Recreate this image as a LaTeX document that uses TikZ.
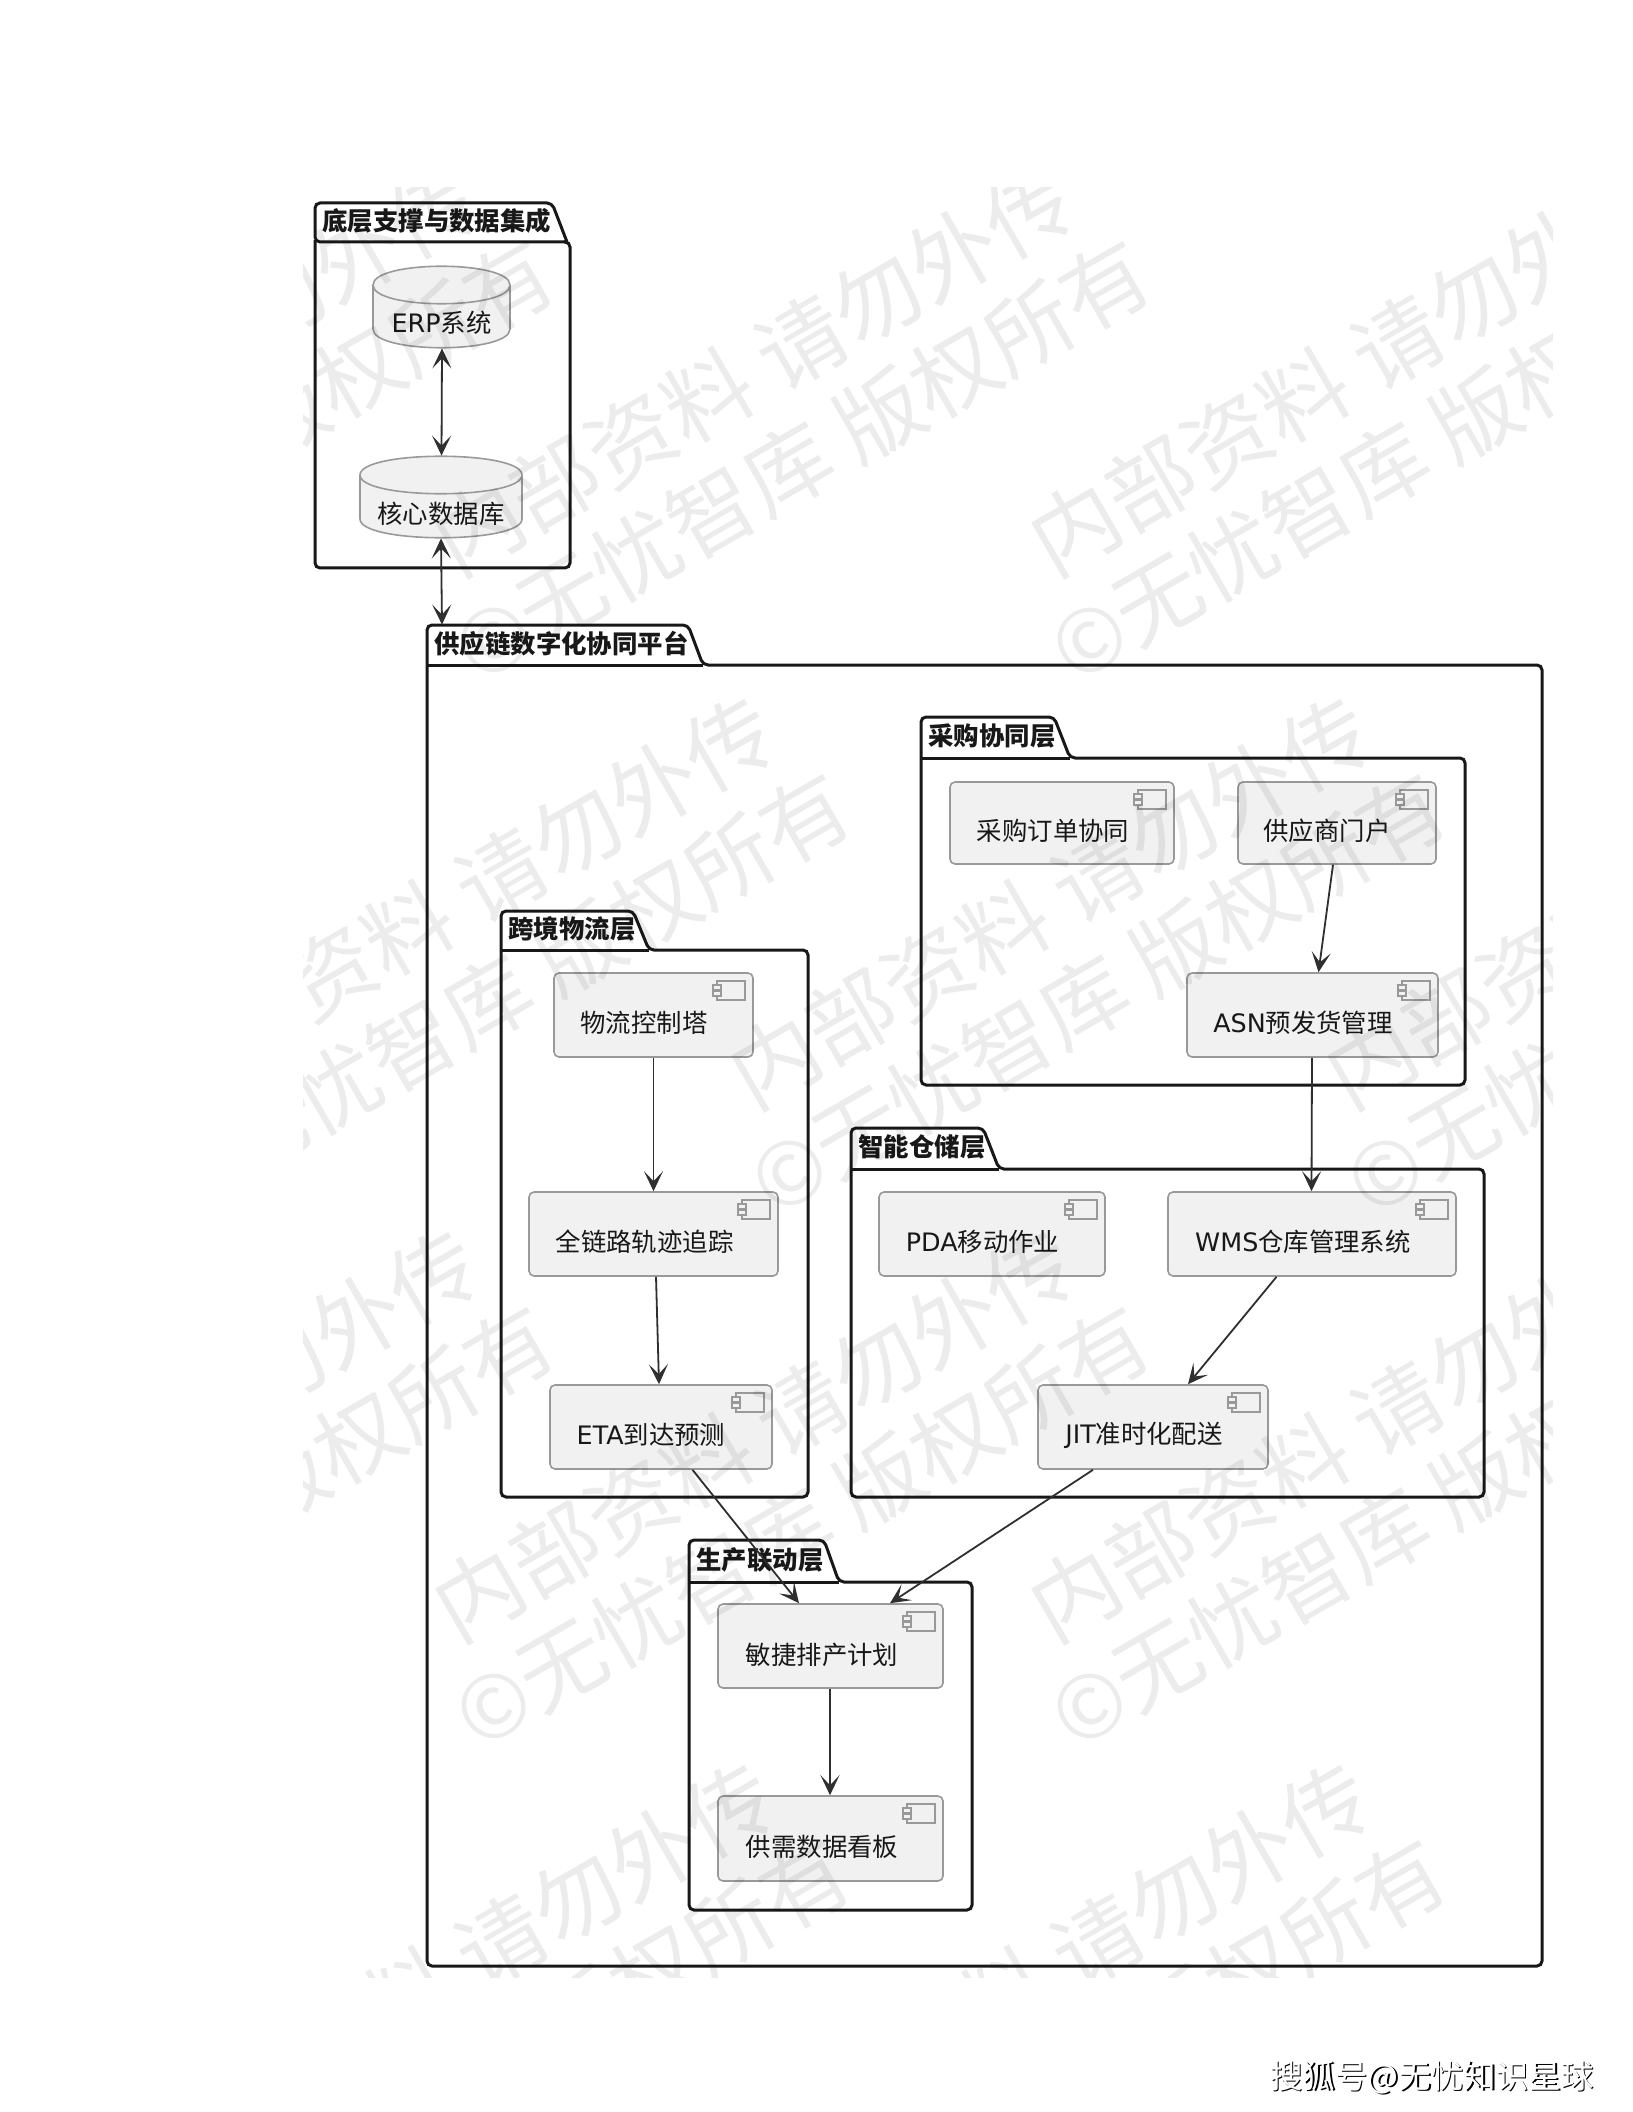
\documentclass[tikz,border=0pt]{standalone}
\usepackage{fontspec}
\setmainfont{DejaVu Sans}
\newfontfamily\cjk{Noto Sans CJK SC}
\usetikzlibrary{arrows.meta,fit,calc}
\definecolor{ink}{HTML}{181818}
\definecolor{boxfill}{HTML}{F1F1F1}
\definecolor{boxline}{HTML}{999999}
\tikzset{
  x=0.5pt,y=-0.5pt,
  pkgline/.style={draw=ink,line width=1.5pt,rounded corners=2.5pt},
  pkgtitle/.style={inner sep=0pt,anchor=west,text=ink,font=\cjk\bfseries\fontsize{12.7pt}{14pt}\selectfont},
  zone/.style={inner sep=0pt,draw=none},
  compbox/.style={inner sep=0pt,draw=boxline,fill=boxfill,line width=.8pt,rounded corners=2.5pt},
  dbzone/.style={inner sep=0pt,draw=none},
  dbshape/.style={draw=boxline,fill=boxfill,line width=.8pt},
  lbl/.style={inner sep=0pt,text=ink,font=\cjk\fontsize{12.7pt}{14pt}\selectfont},
  conn/.style={draw=ink!90!white,line width=.9pt,-{Stealth[length=10pt,width=9.5pt,inset=5pt]}},
  biconn/.style={draw=ink!90!white,line width=.9pt,{Stealth[length=10pt,width=9.5pt,inset=5pt]}-{Stealth[length=10pt,width=9.5pt,inset=5pt]}},
  wm/.style={inner sep=0pt,rotate=30,text=black,text opacity=.075,font=\cjk\fontsize{44pt}{46pt}\selectfont},
  wmb/.style={wm,font=\cjk\fontsize{43.4pt}{46pt}\selectfont},
}
\newcommand{\lat}[1]{{\fontspec{DejaVu Sans}#1}}
% name, left, top, tab top right, tab bottom right, header, right, bottom, title
\newcommand{\pkg}[9]{%
  \path[pkgline] (#2,#6) -- (#2,#3) -- (#4,#3) -- (#5,#6) -- (#7,#6) -- (#7,#8) -- (#2,#8) -- cycle;
  \draw[pkgline] (#2,#6) -- (#5,#6);
  \node[zone,fit={(#2,#3)(#7,#8)}] (#1) {};
  \node[pkgtitle] (#1-t) at ({#2+7},{(#3+#6)/2-1.5}) {#9};
}
% name, x1, y1, x2, y2, label x, label y, text
\newcommand{\comp}[8]{%
  \node[compbox,fit={(#2,#3)(#4,#5)}] (#1) {};
  \draw[boxline,line width=.7pt,fill=boxfill] ({#4-36},{#3+8}) rectangle ({#4-8},{#3+27});
  \draw[boxline,line width=.7pt,fill=boxfill] ({#4-40},{#3+12}) rectangle ({#4-32},{#3+17});
  \draw[boxline,line width=.7pt,fill=boxfill] ({#4-40},{#3+18}) rectangle ({#4-32},{#3+23});
  \node[lbl] (#1-l) at (#6,#7) {#8};
}
% name, x1, top, x2, bottom, label y, text
\newcommand{\dbase}[7]{%
  \node[dbzone,fit={(#2,#3)(#4,#5)}] (#1) {};
  \draw[dbshape] (#2,{#3+19}) .. controls (#2,{#3-6}) and (#4,{#3-6}) .. (#4,{#3+19})
     -- (#4,{#5-19}) .. controls (#4,{#5+6}) and (#2,{#5+6}) .. (#2,{#5-19}) -- cycle;
  \draw[dbshape,fill=none] (#2,{#3+19}) .. controls (#2,{#3+44}) and (#4,{#3+44}) .. (#4,{#3+19});
  \node[lbl] (#1-l) at ({(#2+#4)/2},#6) {#7};
}
\begin{document}
\begin{tikzpicture}
\useasboundingbox (0,0) rectangle (1632,2112);
\fill[white] (0,0) rectangle (1632,2112);

\draw[pkgline] (567,242) -- (315,242) -- (315,203) -- (552,203) -- (567,242);
\draw[pkgline] (564,242) -- (570,242) -- (570,568) -- (315,568) -- (315,240);
\node[zone,fit={(315,203)(570,568)}] (base) {};
\node[pkgtitle] (base-t) at (322,220.5) {底层支撑与数据集成};
\dbase{erp}{373}{266}{510}{348}{323}{\lat{ERP}系统}
\dbase{db}{360}{456}{522}{538}{514}{核心数据库}

\pkg{plat}{427}{625}{688}{703}{665}{1542}{1966}{供应链数字化协同平台}

\pkg{buy}{921}{717}{1054}{1070}{758}{1465}{1085}{采购协同层}
\comp{order}{950}{782}{1174}{864}{1053}{831}{采购订单协同}
\comp{sup}{1238}{782}{1436}{864}{1327}{831}{供应商门户}
\comp{asn}{1187}{973}{1438}{1057}{1303}{1023}{\lat{ASN}预发货管理}

\pkg{log}{501}{911}{633}{649}{950}{808}{1497}{跨境物流层}
\comp{tower}{554}{973}{753}{1057}{644}{1023}{物流控制塔}
\comp{track}{529}{1192}{778}{1276}{644.5}{1242}{全链路轨迹追踪}
\comp{eta}{550}{1385}{772}{1469}{651}{1435}{\lat{ETA}到达预测}

\pkg{wh}{851}{1128}{983}{999}{1169}{1484}{1497}{智能仓储层}
\comp{pda}{879}{1192}{1105}{1276}{982.5}{1242}{\lat{PDA}移动作业}
\comp{wms}{1168}{1192}{1456}{1276}{1303}{1242}{\lat{WMS}仓库管理系统}
\comp{jit}{1038}{1385}{1268}{1469}{1144}{1435}{\lat{JIT}准时化配送}

\pkg{prod}{689}{1540}{824}{839}{1582}{972}{1910}{生产联动层}
\comp{plan}{718}{1604}{943}{1688}{822}{1655}{敏捷排产计划}
\comp{board}{718}{1796}{943}{1881}{822}{1847}{供需数据看板}

% connectors (shifts in pt: half of a reference pixel offset from the node centre)
\draw[biconn] ([xshift=.25pt]erp.south) -- ([xshift=.25pt]db.north);
\draw[biconn] (db.south) -- ([xshift=-271.25pt]plat.north);
\draw[conn] ([xshift=-2pt]sup.south) -- ([xshift=3pt]asn.north);
\draw[conn] ([xshift=-.25pt]asn.south) -- ([xshift=-.25pt]wms.north);
\draw[conn] (tower.south) -- (track.north);
\draw[conn] ([xshift=1.25pt]track.south) -- ([xshift=-1pt]eta.north);
\draw[conn] ([xshift=-17.75pt]wms.south) -- ([xshift=17.5pt]jit.north);
\draw[conn] ([xshift=15.75pt]eta.south) -- ([xshift=-15.75pt]plan.north);
\draw[conn] ([xshift=-30pt]jit.south) -- ([xshift=29.75pt]plan.north);
\draw[conn] ([xshift=-.25pt]plan.south) -- ([xshift=-.25pt]board.north);

% watermark
\begin{scope}
\clip (303,188) rectangle (1552,1977);
\foreach \i/\cx/\cy in {
 1/754/369, 2/1350/369, 3/158/369, 16/1946/369,
 4/454/902, 5/1050/902, 6/1646/902,
 7/754/1435, 8/1350/1435, 9/158/1435, 17/1946/1435,
 10/454/1968, 11/1050/1968, 15/1646/1968,
 12/454/-164, 13/1050/-164, 14/1646/-164}{
  \node[wm] (wm\i a) at (\cx,\cy) {内部资料 请勿外传};
  \node[wmb] (wm\i b) at ({\cx+48},{\cy+91}) {©无忧智库 版权所有};
}
\end{scope}

% footer
\node[inner sep=0pt,anchor=west,text=black,font=\cjk\fontsize{16.25pt}{18pt}\selectfont] (foot0) at (1271.5,2079) {搜狐号@无忧知识星球};
\node[inner sep=0pt,anchor=west,text=white,font=\cjk\fontsize{16.25pt}{18pt}\selectfont] (foot1) at (1270,2078) {搜狐号@无忧知识星球};
\end{tikzpicture}
\end{document}
